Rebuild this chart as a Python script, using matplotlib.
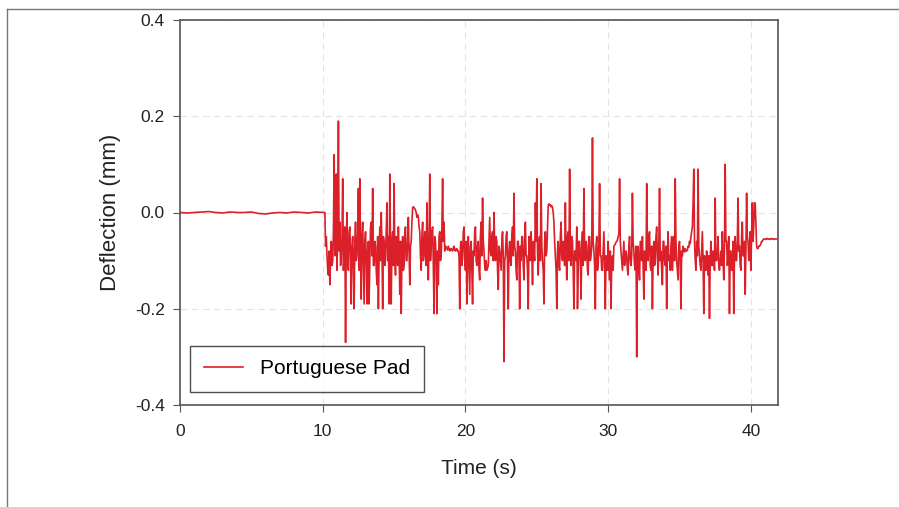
import numpy as np
import matplotlib.pyplot as plt
from matplotlib.lines import Line2D

# quiet part before the load arrives (0.5 s steps)
quiet_t = np.arange(0, 10.0, 0.5)
quiet_y = [0.0, -0.001, 0.0, 0.001, 0.002, 0.0, -0.001, 0.001, 0.0, 0.0,
           0.001, -0.002, -0.003, -0.001, 0.0, -0.001, 0.001, 0.0, -0.001, 0.001]

# active part, 0.05 s steps from 10.0 s, one row per second
active_y = [
    0.0, 0.0, 0.0, 0.0, -0.07, -0.05, -0.09, -0.12, -0.13, -0.08, -0.15, -0.10, -0.06, -0.11, -0.10, -0.04, 0.12, -0.09, -0.05, 0.08,
    -0.12, -0.03, 0.19, -0.08, -0.02, -0.11, -0.10, -0.05, 0.07, -0.12, -0.08, -0.03, -0.27, -0.06, 0.0, -0.10, -0.12, -0.04, -0.03, -0.09,
    -0.19, -0.07, -0.05, -0.11, -0.20, -0.06, -0.02, -0.10, -0.09, -0.04, 0.05, -0.12, 0.07, -0.08, -0.18, -0.05, -0.02, -0.11, -0.19, -0.06,
    -0.04, -0.10, -0.19, -0.08, -0.06, -0.19, -0.10, -0.03, -0.02, -0.09, 0.05, -0.11, -0.11, -0.06, -0.07, -0.12, -0.15, -0.05, -0.20, -0.09,
    -0.03, -0.10, 0.0, -0.07, -0.20, -0.05, -0.06, -0.11, -0.09, -0.04, 0.02, -0.10, -0.05, -0.19, 0.08, -0.07, -0.19, -0.06, -0.04, -0.11,
    0.06, -0.09, -0.13, -0.05, -0.06, -0.11, -0.03, -0.08, -0.17, -0.06, -0.21, -0.09, -0.05, -0.12, -0.11, -0.04, -0.03, -0.10, -0.10, -0.06,
    -0.01, -0.08, -0.15, -0.07, -0.06, -0.02, 0.01, 0.012, 0.01, 0.008, 0.005, 0.0, -0.01, -0.005, -0.01, -0.03, -0.04, -0.09, -0.12, -0.05,
    -0.02, -0.10, -0.09, -0.04, -0.05, -0.11, 0.02, -0.08, -0.14, -0.06, 0.08, -0.10, -0.07, -0.04, -0.03, -0.11, -0.21, -0.05, -0.06, -0.10,
    -0.21, -0.08, -0.15, -0.05, -0.04, -0.10, -0.09, -0.03, 0.07, -0.06, -0.02, -0.08, -0.07, -0.072, -0.075, -0.078, -0.07, -0.075, -0.08, -0.076,
    -0.075, -0.078, -0.08, -0.074, -0.07, -0.078, -0.08, -0.076, -0.075, -0.08, -0.08, -0.09, -0.20, -0.07, -0.06, -0.11, -0.09, -0.04, -0.03, -0.10,
    -0.12, -0.06, -0.19, -0.09, -0.05, -0.11, -0.17, -0.07, -0.06, -0.12, -0.19, -0.08, -0.09, -0.04, -0.03, -0.10, -0.11, -0.07, -0.06, -0.12,
    -0.14, -0.05, -0.02, -0.09, 0.03, -0.06, -0.08, -0.11, -0.12, -0.10, -0.12, -0.115, -0.11, -0.06, -0.01, -0.08, -0.09, -0.05, -0.04, -0.10,
    0.0, -0.07, -0.10, -0.05, -0.06, -0.12, -0.16, -0.07, -0.08, -0.10, -0.12, -0.06, -0.04, -0.09, -0.31, -0.10, -0.09, -0.05, -0.04, -0.11,
    -0.20, -0.08, -0.06, -0.10, -0.11, -0.05, -0.03, -0.09, 0.04, -0.07, -0.08, -0.12, -0.14, -0.06, -0.06, -0.09, -0.20, -0.07, -0.10, -0.05,
    -0.05, -0.11, -0.14, -0.06, -0.02, -0.09, -0.09, -0.12, -0.20, -0.05, -0.07, -0.10, -0.04, -0.08, -0.15, -0.06, -0.08, -0.10, 0.02, -0.06,
    0.07, -0.08, -0.13, -0.06, -0.05, -0.10, 0.06, -0.07, -0.10, -0.12, -0.19, -0.06, -0.04, -0.09, -0.08, -0.03, 0.015, 0.018, 0.015, 0.016,
    0.012, 0.014, 0.01, 0.0, -0.02, -0.06, -0.09, -0.12, -0.20, -0.08, -0.06, -0.11, -0.12, -0.05, -0.02, -0.09, -0.10, -0.06, -0.07, -0.11,
    0.02, -0.08, -0.14, -0.05, -0.04, -0.10, 0.09, -0.07, -0.11, -0.05, -0.06, -0.12, -0.20, -0.08, -0.08, -0.10, -0.03, -0.20, -0.12, -0.06,
    -0.06, -0.10, -0.18, -0.07, -0.04, -0.11, 0.05, -0.08, -0.10, -0.06, -0.07, -0.12, -0.13, -0.05, -0.05, -0.10, -0.09, -0.07, 0.155, -0.06,
    -0.08, -0.11, -0.20, -0.07, -0.05, -0.12, -0.11, -0.06, 0.06, -0.09, -0.09, -0.12, -0.12, -0.08, -0.04, -0.10, -0.20, -0.09, -0.10, -0.12,
    -0.06, -0.11, -0.14, -0.08, -0.20, -0.10, -0.09, -0.12, -0.07, -0.068, -0.065, -0.062, -0.06, -0.057, -0.05, -0.045, 0.07, -0.06, -0.08, -0.10,
    -0.12, -0.09, -0.06, -0.11, -0.10, -0.08, -0.09, -0.12, -0.13, -0.07, -0.05, -0.10, -0.11, -0.09, 0.04, -0.06, -0.08, -0.11, -0.12, -0.07,
    -0.30, -0.09, -0.07, -0.12, -0.14, -0.06, -0.08, -0.10, -0.05, -0.11, -0.18, -0.08, -0.09, -0.12, 0.06, -0.07, -0.10, -0.05, -0.04, -0.11,
    -0.12, -0.07, -0.20, -0.09, -0.06, -0.11, -0.10, -0.05, -0.03, -0.09, -0.13, -0.07, 0.05, -0.10, -0.08, -0.12, -0.15, -0.06, -0.06, -0.10,
    -0.11, -0.07, -0.20, -0.09, -0.04, -0.10, -0.09, -0.12, -0.07, -0.05, -0.12, -0.08, -0.05, -0.10, 0.07, -0.06, -0.10, -0.12, -0.14, -0.07,
    -0.06, -0.10, -0.20, -0.08, -0.09, -0.07, -0.08, -0.082, -0.075, -0.08, -0.08, -0.078, -0.07, -0.072, -0.06, -0.065, -0.05, -0.04, -0.03, 0.02,
    0.09, -0.06, -0.10, -0.12, -0.06, -0.09, 0.09, -0.07, -0.09, -0.11, -0.12, -0.08, -0.04, -0.10, -0.21, -0.09, -0.10, -0.12, -0.08, -0.10,
    -0.13, -0.09, -0.22, -0.10, -0.06, -0.11, -0.11, -0.08, -0.09, -0.12, 0.03, -0.10, -0.10, -0.09, -0.05, -0.11, -0.12, -0.10, -0.08, -0.11,
    -0.04, -0.10, -0.14, -0.07, 0.10, -0.06, -0.06, -0.11, -0.09, -0.05, -0.21, -0.08, -0.08, -0.12, -0.12, -0.06, -0.21, -0.09, -0.05, -0.10,
    -0.10, -0.06, 0.03, -0.08, -0.07, -0.11, -0.12, -0.05, -0.02, -0.09, -0.09, -0.06, -0.17, -0.08, 0.04, -0.05, -0.06, -0.10, -0.08, -0.04,
    -0.12, -0.05, 0.02, -0.06, -0.03, 0.02, 0.02, -0.02, -0.07, -0.075, -0.075, -0.07, -0.07, -0.068, -0.065, -0.06, -0.06, -0.057, -0.055, -0.055,
    -0.055, -0.056, -0.055, -0.054, -0.055, -0.055, -0.056, -0.055, -0.055, -0.054, -0.055, -0.055, -0.056, -0.055, -0.055, -0.055, -0.055,
]
active_t = np.round(10.0 + 0.05 * np.arange(len(active_y)), 2)

time = np.concatenate([quiet_t, active_t])
deflection = np.concatenate([quiet_y, active_y])

plt.rcParams['font.family'] = ['Liberation Sans', 'DejaVu Sans']

fig = plt.figure(figsize=(8.99, 5.07), dpi=100)
ax = fig.add_axes([180 / 899, 1 - 405 / 507, 598 / 899, 385 / 507])

line_color = '#dc2029'
ax.plot(time, deflection, color=line_color, lw=1.2, label='Portuguese Pad')

ax.set_xlim(0, 41.9)
ax.set_ylim(-0.4, 0.4)
ax.set_xticks([0, 10, 20, 30, 40])
ax.set_yticks([-0.4, -0.2, 0.0, 0.2, 0.4])
ax.set_yticklabels(['-0.4', '-0.2', '0.0', '0.2', '0.4'])
ax.grid(True, color='#e4e4e4', lw=0.8, ls=(0, (6, 4)))
ax.set_axisbelow(True)

for s in ax.spines.values():
    s.set_color('#555555')
    s.set_linewidth(1.2)
ax.tick_params(direction='out', length=5, color='#555555', labelsize=12.5,
               labelcolor='#222222', pad=6)
ax.tick_params(axis='x', pad=9)

ax.set_xlabel('Time (s)', fontsize=15, color='#222222', labelpad=14)
ax.set_ylabel('Deflection (mm)', fontsize=16, color='#222222', labelpad=10)

leg = ax.legend(loc='lower left', bbox_to_anchor=(0.017, 0.034), borderaxespad=0,
                fontsize=15, frameon=True, fancybox=False, borderpad=0.65,
                handlelength=1.9, handletextpad=0.8)
leg.get_frame().set_edgecolor('#222222')
leg.get_frame().set_linewidth(1.0)

# outer frame of the figure (top and left edges)
fig.add_artist(Line2D([7 / 899, 1], [1 - 9 / 507, 1 - 9 / 507], color='#777777', lw=1.0))
fig.add_artist(Line2D([7 / 899, 7 / 899], [0, 1 - 9 / 507], color='#777777', lw=1.0))

fig.savefig('out.png', dpi=100)
